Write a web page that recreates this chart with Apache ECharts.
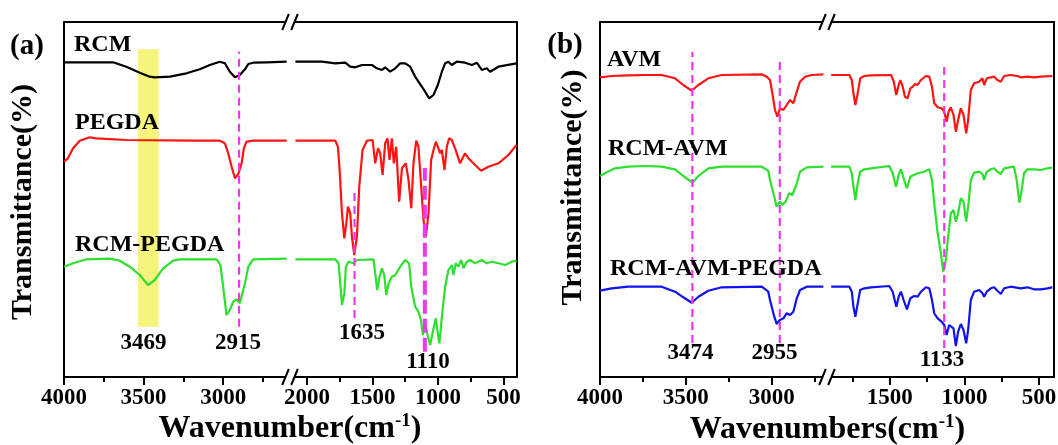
<!DOCTYPE html>
<html><head><meta charset="utf-8">
<script src="https://cdn.jsdelivr.net/npm/echarts@6/dist/echarts.min.js"></script>
<style>html,body{margin:0;padding:0;background:#fff}#c{width:1058px;height:445px}</style>
</head><body><div id="c"></div>
<script>
// ---------- DATA (wavenumber cm^-1, transmittance a.u.) ----------
const RCM = [[4000,314.7],[3692,314.7],[3608,310.3],[3524,304.3],[3461,300.3],[3430,299.7],[3335,300.3],[3230,303.7],[3147,307.7],[3084,312],[3021,315.3],[2989,313.7],[2958,305.3],[2926,299.7],[2895,302],[2863,307.7],[2842,313],[2811,314.3],[2727,314.7],[2601,315.3],
[2089,315.3],[1886,315.3],[1784,313.7],[1708,314.3],[1670,310.3],[1632,309.7],[1580,312],[1504,312],[1466,308.7],[1428,307],[1403,309.7],[1365,305.3],[1326,308.7],[1288,313.7],[1250,313.7],[1212,310.3],[1174,300.3],[1149,295.3],[1123,290.3],[1098,285.3],[1067,278.7],[1034,282],[1001,292],[970,305.3],[945,313.7],[920,315.3],[894,312],[856,315.3],[793,314.3],[741,312],[703,314.3],[665,307],[627,308.7],[602,305.3],[538,310.3],[400,313.7]];
const PEGDA = [[4000,215.3],[3975,218.7],[3943,228.7],[3901,236.3],[3838,239.7],[3796,238.7],[3608,237],[3189,236.3],[3021,236.3],[2989,233.7],[2968,223.7],[2947,210.3],[2926,198.7],[2905,203],[2884,213.7],[2870,228.7],[2853,235.3],[2811,236.3],[2601,236.3],
[2089,236.3],[1784,236.3],[1764,230.3],[1751,207],[1733,163.7],[1715,138.7],[1700,153.7],[1687,170.3],[1670,163.7],[1657,140.3],[1639,122],[1619,140.3],[1601,190.3],[1576,227],[1542,236.3],[1499,237],[1479,213.7],[1458,228.7],[1441,223.7],[1423,202],[1403,233.7],[1385,238.7],[1370,217],[1352,238.7],[1337,213.7],[1319,230.3],[1296,175.3],[1275,208.7],[1245,213.7],[1225,197],[1204,168.7],[1187,213.7],[1166,236.3],[1149,230.3],[1128,190.3],[1110,157],[1092,140.3],[1072,163.7],[1052,217],[1034,227],[1016,235.3],[1001,230.3],[983,223.7],[970,227],[950,207],[932,230.3],[915,238.7],[894,237],[869,228.7],[831,213.7],[793,223.7],[767,218.7],[716,212],[670,206.3],[615,210.3],[538,213.7],[462,222],[400,232]];
const RCM_PEGDA = [[4000,110.3],[3943,113.7],[3859,117.7],[3713,118.3],[3650,116.3],[3587,110.3],[3524,102],[3472,92],[3430,97],[3377,108.7],[3314,116.3],[3273,117.7],[3042,117.7],[3017,112],[3000,90.3],[2979,62],[2958,67],[2937,75.3],[2916,77.7],[2895,73.7],[2879,83.7],[2863,93.7],[2842,110.3],[2811,117.7],[2601,118.3],
[2089,117.7],[1784,117.7],[1759,113.7],[1746,93.7],[1733,72],[1715,83.7],[1703,110.3],[1683,115.3],[1644,113.7],[1619,117],[1492,117.7],[1479,103.7],[1464,87],[1446,100.3],[1428,108.7],[1410,102],[1395,82],[1377,93.7],[1352,100.3],[1326,102],[1288,110.3],[1250,117],[1220,113.7],[1204,90.3],[1174,70.3],[1149,65.3],[1130,57],[1115,42],[1098,55.3],[1077,40.3],[1059,32],[1042,43.7],[1016,58.7],[1001,43.7],[989,33.7],[970,60.3],[945,90.3],[920,107],[894,112],[882,102],[864,113.7],[844,110.3],[823,117],[805,108.7],[780,115.3],[754,117],[716,113.7],[665,117],[627,113.7],[589,115.3],[538,113.7],[487,112],[436,115.3],[400,116.3]];
const AVM = [[4000,299.7],[3932,301],[3835,301.7],[3738,302],[3641,302],[3563,298.7],[3515,292],[3466,286.3],[3427,292],[3369,298.7],[3291,302],[3058,302.7],[3029,300.3],[3010,297],[2996,283.7],[2981,267],[2967,260.3],[2952,268.7],[2932,267],[2913,272],[2893,277],[2874,273.7],[2854,285.3],[2835,295.3],[2806,300.3],[2767,302],[2699,302.7],
[1892,302],[1770,302],[1754,297],[1743,283.7],[1730,272],[1714,283.7],[1698,298.7],[1670,301],[1625,301.7],[1491,302],[1473,295.3],[1456,282],[1440,292],[1429,297],[1413,290.3],[1398,280.3],[1380,278.7],[1362,288.7],[1346,290.3],[1331,293],[1313,292],[1291,297],[1258,301],[1235,300.3],[1217,290.3],[1202,273.7],[1179,269.7],[1153,268.7],[1135,265.3],[1119,255.3],[1106,265.3],[1091,269.7],[1073,262],[1057,245.3],[1042,257],[1024,268.7],[1006,262],[988,243.7],[975,257],[957,287],[935,293.7],[901,295.3],[879,298.7],[868,292],[850,298.7],[823,299.7],[801,300.3],[779,297],[756,295.3],[734,301],[690,302],[645,301],[623,299.7],[578,300.3],[534,299.7],[489,300.3],[411,301]];
const RCM_AVM = [[4000,201],[3971,203.7],[3913,208.7],[3835,210.3],[3738,211],[3641,210.3],[3563,207.7],[3515,201],[3462,194.3],[3427,201],[3369,208.7],[3291,210.3],[3058,210.3],[3020,206.3],[3010,197],[2985,180.3],[2971,170.3],[2952,175.3],[2938,172],[2919,175.3],[2899,183.7],[2880,182],[2854,193.7],[2835,205.3],[2796,209.7],[2699,210.3],
[1892,210.3],[1770,210.3],[1754,203.7],[1743,190.3],[1730,177],[1714,193.7],[1698,205.3],[1670,207.7],[1625,208.7],[1503,211],[1480,203.7],[1458,190.3],[1440,202],[1425,207.7],[1407,198.7],[1385,188.7],[1362,200.3],[1340,202],[1313,203.7],[1269,205.3],[1235,207.7],[1217,197],[1202,173.7],[1179,143.7],[1157,123.7],[1142,105.3],[1124,117],[1109,140.3],[1091,163.7],[1073,167],[1057,155.3],[1042,163.7],[1024,178.7],[1006,175.3],[988,155.3],[975,170.3],[957,197],[935,204.3],[901,205.3],[879,203],[868,197],[850,205.3],[823,207.7],[801,208.7],[779,205.3],[756,203],[734,208.7],[701,209.7],[668,210.3],[650,197],[632,174.3],[616,187],[601,203.7],[578,207.7],[534,207.7],[489,207],[445,208.7],[411,209.3]];
const RCM_AVM_PEGDA = [[4000,86.3],[3932,88.7],[3835,90.3],[3641,90.3],[3563,85.3],[3515,79.7],[3466,74.3],[3427,80.3],[3369,86.3],[3291,89.7],[3058,90.3],[3020,85.3],[3010,77],[2985,60.3],[2971,53],[2952,57],[2932,58.7],[2913,63.7],[2893,62],[2874,65.3],[2854,78.7],[2835,87],[2796,90.3],[2699,90.3],
[1892,90.3],[1770,90.3],[1754,85.3],[1743,70.3],[1730,60.3],[1714,73.7],[1698,87],[1670,88.7],[1625,89.7],[1503,91],[1480,85.3],[1456,70.3],[1440,80.3],[1425,85.3],[1407,77],[1385,67.7],[1362,78.7],[1336,81],[1313,80.3],[1291,85.3],[1258,89.7],[1235,88.7],[1217,77],[1202,63.7],[1179,58.7],[1153,55.3],[1135,52],[1119,42],[1102,52],[1091,53],[1073,48.7],[1057,31],[1042,45.3],[1024,53],[1006,47],[988,33.7],[975,47],[957,77],[935,85.3],[901,87],[879,83.7],[868,80.3],[850,85.3],[823,88.7],[801,89.7],[779,86.3],[756,83],[734,88.7],[690,90.3],[623,88.7],[578,89.7],[534,87.7],[489,87.7],[445,88.7],[411,89.7]];

// dashed guide lines: [wavenumber, yFrom, yTo]
const DASH_A = [[2900,50.3,325.3],[1637,59,187]];
const DASH_A_THICK = [[1100,25.3,209]];
const DASH_B = [[3462,34,325.3],[2953,34,318.7],[1135,29,310.3]];
// highlighted band: [wFrom, wTo, yFrom, yTo]
const BAND_A = [3536,3406,50.3,327.7];

// tick values
const TICK_L_MAJOR = [4000,3500,3000];
const TICK_L_MINOR = [3750,3250,2750];
const TICK_AR_MAJOR = [2000,1500,1000,500];
const TICK_BR_MAJOR = [1500,1000,500];
const TICK_R_MINOR = [1750,1250,750];

const NAMES_A = ['RCM','PEGDA','RCM-PEGDA'];
const NAMES_B = ['AVM','RCM-AVM','RCM-AVM-PEGDA'];
const PEAKS_A = ['3469','2915','1635','1110'];
const PEAKS_B = ['3474','2955','1133'];

// ---------- LAYOUT ----------
const FONT = '"Liberation Serif","Times New Roman",serif';
const TOP = 22, H = 355;
const RED = '#ff1414', GREEN = '#2ee02e', BLUE = '#1212f0', MAG = '#ee38ee';
const segs = [
  {left:64,  width:226,   min:2580, max:4000, major:TICK_L_MAJOR,  minor:TICK_L_MINOR, side:'left'},
  {left:290, width:226.5, min:400,  max:2130, major:TICK_AR_MAJOR, minor:TICK_R_MINOR, side:'right'},
  {left:600, width:227,   min:2678, max:4000, major:TICK_L_MAJOR,  minor:TICK_L_MINOR, side:'left'},
  {left:827, width:227,   min:400,  max:1920, major:TICK_BR_MAJOR, minor:TICK_R_MINOR, side:'right'}
];
const BREAKS = [2400, 2300];

const grid = [], xAxis = [], yAxis = [], series = [];
const axLine = {show:true, onZero:false, lineStyle:{color:'#000', width:2}};
const mkGrid = s => ({left:s.left, top:TOP, width:s.width, height:H, containLabel:false, outerBoundsMode:'none'});
segs.forEach(s => grid.push(mkGrid(s)));
segs.forEach(s => grid.push(mkGrid(s)));
segs.forEach((s,g) => {
  xAxis.push({gridIndex:g, type:'value', position:'bottom', inverse:true, min:s.min, max:s.max,
    axisLine:axLine,
    axisTick:{show:true, customValues:s.major, length:8, lineStyle:{color:'#000', width:2}},
    axisLabel:{show:true, customValues:s.major, margin:10, color:'#000', fontSize:23, fontWeight:'bold', fontFamily:FONT,
      formatter: v => String(v)},
    splitLine:{show:false}});
  xAxis.push({gridIndex:g, type:'value', position:'top', inverse:true, min:s.min, max:s.max,
    axisLine:axLine, axisTick:{show:false}, axisLabel:{show:false}, splitLine:{show:false}});
});
segs.forEach((s,g) => {
  xAxis.push({gridIndex:g+4, type:'value', position:'bottom', inverse:true, min:s.min, max:s.max,
    axisLine:{show:false},
    axisTick:{show:true, customValues:s.minor, length:5, lineStyle:{color:'#000', width:2}},
    axisLabel:{show:false}, splitLine:{show:false}});
});
segs.forEach((s,g) => yAxis.push({gridIndex:g, type:'value', min:0, max:H, position:s.side,
  axisLine:axLine, axisTick:{show:false}, axisLabel:{show:false}, splitLine:{show:false}}));
segs.forEach((s,g) => yAxis.push({gridIndex:g+4, type:'value', min:0, max:H, show:false}));

function segOf(panel, w){ return panel*2 + (w > BREAKS[panel] ? 0 : 1); }

const spectra = [
  {name:NAMES_A[0], data:RCM, color:'#000', panel:0},
  {name:NAMES_A[1], data:PEGDA, color:RED, panel:0},
  {name:NAMES_A[2], data:RCM_PEGDA, color:GREEN, panel:0},
  {name:NAMES_B[0], data:AVM, color:RED, panel:1},
  {name:NAMES_B[1], data:RCM_AVM, color:GREEN, panel:1},
  {name:NAMES_B[2], data:RCM_AVM_PEGDA, color:BLUE, panel:1}
];
spectra.forEach(sp => {
  [0,1].forEach(k => {
    const g = sp.panel*2 + k;
    const d = sp.data.filter(p => segOf(sp.panel, p[0]) === g);
    series.push({type:'line', name:sp.name, xAxisIndex:2*g, yAxisIndex:g, data:d, symbol:'none',
      lineStyle:{color:sp.color, width:2.2}, z:3, silent:true, animation:false});
  });
});

function addDash(panel, list, width, dash){
  list.forEach(l => {
    const g = segOf(panel, l[0]);
    series.push({type:'line', xAxisIndex:2*g, yAxisIndex:g, data:[[l[0],l[1]],[l[0],l[2]]], symbol:'none',
      lineStyle:{color:MAG, width:width, type:dash, cap:'butt'}, z:6, silent:true, animation:false});
  });
}
addDash(0, DASH_A, 2.2, [8,5]);
addDash(0, DASH_A_THICK, 4, [14,5]);
addDash(1, DASH_B, 2.2, [8,5]);

series.push({type:'line', xAxisIndex:0, yAxisIndex:0, data:[[BAND_A[0],BAND_A[2]],[BAND_A[1],BAND_A[3]]],
  symbol:'none', lineStyle:{opacity:0}, z:1, silent:true, animation:false,
  markArea:{silent:true, animation:false, itemStyle:{color:'#f6f47a', opacity:1},
    data:[[{coord:[BAND_A[0],BAND_A[2]]},{coord:[BAND_A[1],BAND_A[3]]}]]}});

// ---------- annotations ----------
function txt(t, x, y, size, align, rot){
  return {type:'text', x:x, y:y, rotation:rot||0, z:50, silent:true,
    style:{text:t, fill:'#000', font:'bold '+size+'px '+FONT, fontSize:size, fontWeight:'bold', fontFamily:FONT,
      align:align||'center', textAlign:align||'center', verticalAlign:'middle', textVerticalAlign:'middle'}};
}
function rtxt(t, x, y){
  return {type:'text', x:x, y:y, z:50, silent:true,
    style:{text:t, fill:'#000', align:'center', verticalAlign:'middle', textAlign:'center', textVerticalAlign:'middle',
      rich:{m:{fontSize:32, fontWeight:'bold', fontFamily:FONT, lineHeight:34},
            s:{fontSize:19, fontWeight:'bold', fontFamily:FONT, verticalAlign:'top', lineHeight:19}}}};
}
const graphic = [
  txt('(a)', 27, 47, 29), txt('(b)', 565, 46, 29),
  txt(NAMES_A[0], 74, 45, 24, 'left'), txt(NAMES_A[1], 75, 123, 24, 'left'), txt(NAMES_A[2], 75, 245, 24, 'left'),
  txt(NAMES_B[0], 607, 59.5, 24, 'left'), txt(NAMES_B[1], 608, 149, 24, 'left'), txt(NAMES_B[2], 610, 269, 24, 'left'),
  txt(PEAKS_A[0], 143.5, 343, 23), txt(PEAKS_A[1], 238, 343, 23), txt(PEAKS_A[2], 362, 333, 23), txt(PEAKS_A[3], 428, 362, 23),
  txt(PEAKS_B[0], 690.5, 353, 23), txt(PEAKS_B[1], 774.5, 353, 23), txt(PEAKS_B[2], 942, 360.5, 23),
  txt('Transmittance(%)', 23.5, 202, 30, 'center', Math.PI/2),
  txt('Transmittance(%)', 573, 187.5, 30, 'center', Math.PI/2),
  rtxt('{m|Wavenumber(cm}{s|-1}{m|)}', 290, 429),
  rtxt('{m|Wavenumbers(cm}{s|-1}{m|)}', 827.5, 430)
];
[segs[1].left, segs[3].left].forEach(c => {
  [TOP, TOP+H].forEach(y => {
    graphic.push({type:'rect', z:60, silent:true, shape:{x:c-4.5, y:y-2.5, width:9, height:5}, style:{fill:'#fff'}});
    [-4.5, 4.5].forEach(o => graphic.push({type:'line', z:61, silent:true,
      shape:{x1:c+o-3.3, y1:y+8, x2:c+o+3.3, y2:y-8}, style:{stroke:'#000', lineWidth:2}}));
  });
});

const chart = echarts.init(document.getElementById('c'), null, {renderer:'canvas'});
chart.setOption({animation:false, backgroundColor:'#fff', grid, xAxis, yAxis, series, graphic});
</script>
</body></html>
